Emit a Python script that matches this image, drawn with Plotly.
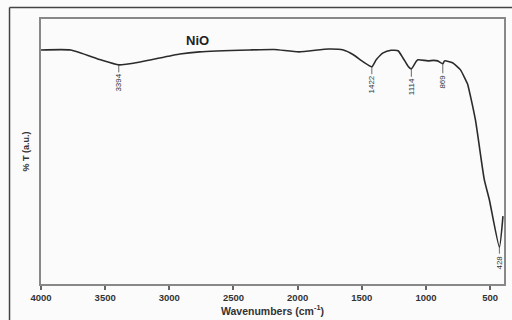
import plotly.graph_objects as go

# Spectrum trace (wavenumber cm^-1, %T in arbitrary units)
wavenumber = [4000, 3768, 3536, 3394, 3227, 2918, 2764, 2377, 2184, 1991, 1759, 1643,
              1566, 1488, 1422, 1388, 1334, 1272, 1218, 1179, 1141, 1114, 1079, 1063,
              986, 940, 909, 869, 855, 793, 731, 692, 676, 615, 546, 507, 428, 400]
transmittance = [88.3, 88.3, 84.6, 82.7, 83.8, 86.8, 87.6, 88.3, 88.5, 87.6, 88.7, 88.3,
                 86.5, 83.8, 82.0, 84.6, 87.2, 88.2, 88.0, 85.3, 82.3, 81.2, 83.8, 84.6,
                 84.2, 84.4, 84.2, 83.1, 84.2, 83.5, 80.8, 77.1, 75.5, 62.0, 39.5, 32.0,
                 13.9, 25.6]

peak_labels = ["3394", "1422", "1114", "869", "428"]
peak_x = [3394, 1422, 1114, 869, 428]
peak_y = [82.7, 82.0, 81.2, 83.1, 13.9]

tick_vals = [4000, 3500, 3000, 2500, 2000, 1500, 1000, 500]
tick_text = ["4000", "3500", "3000", "2500", "2000", "1500", "1000", "500"]

FONT = "Liberation Sans, Arial, sans-serif"

fig = go.Figure()
fig.add_trace(go.Scatter(x=wavenumber, y=transmittance, mode="lines",
                         line=dict(color="#2b2b2b", width=1.6, shape="spline", smoothing=0.5),
                         hoverinfo="skip"))

annotations = []
for lbl, px, py in zip(peak_labels, peak_x, peak_y):
    annotations.append(dict(x=px, y=py, xref="x", yref="y", text=lbl, textangle=-90,
                            showarrow=True, arrowhead=0, arrowwidth=0.8, arrowcolor="#444",
                            ax=0, ay=18 if lbl != "428" else 15, standoff=0,
                            font=dict(family=FONT, size=8, color="#333")))
annotations.append(dict(x=2780, y=92, xref="x", yref="y", text="<b>NiO</b>", showarrow=False,
                        font=dict(family=FONT, size=13, color="#222")))

fig.update_layout(
    width=512, height=320,
    margin=dict(l=41, r=6, t=19, b=36),
    paper_bgcolor="#fbfbfb", plot_bgcolor="#fbfbfb",
    showlegend=False,
    annotations=annotations,
    shapes=[
        dict(type="line", xref="paper", yref="paper", x0=-0.068, x1=-0.068,
             y0=-0.14, y1=1.043, line=dict(color="#444", width=1.5)),
        dict(type="line", xref="paper", yref="paper", x0=-0.068, x1=1.02,
             y0=1.043, y1=1.043, line=dict(color="#444", width=1.5)),
    ],
    xaxis=dict(range=[4000, 392], tickvals=tick_vals, ticktext=tick_text,
               ticks="outside", ticklen=4, tickcolor="#666", tickwidth=1.5,
               showline=True, linecolor="#888", linewidth=2, mirror=True,
               showgrid=False, zeroline=False,
               tickfont=dict(family=FONT, size=9.5, color="#333", weight="bold"),
               title=dict(text="Wavenumbers (cm<sup>-1</sup>)", standoff=2,
                          font=dict(family=FONT, size=10.5, color="#333", weight="bold"))),
    yaxis=dict(range=[0, 100], showticklabels=False, ticks="",
               showline=True, linecolor="#888", linewidth=2, mirror=True,
               showgrid=False, zeroline=False,
               title=dict(text="% T (a.u.)", standoff=8,
                          font=dict(family=FONT, size=9, color="#333", weight="bold"))),
)

fig.write_html("out.html", config={"displayModeBar": False},
               post_script="document.body.style.margin='0px';")
